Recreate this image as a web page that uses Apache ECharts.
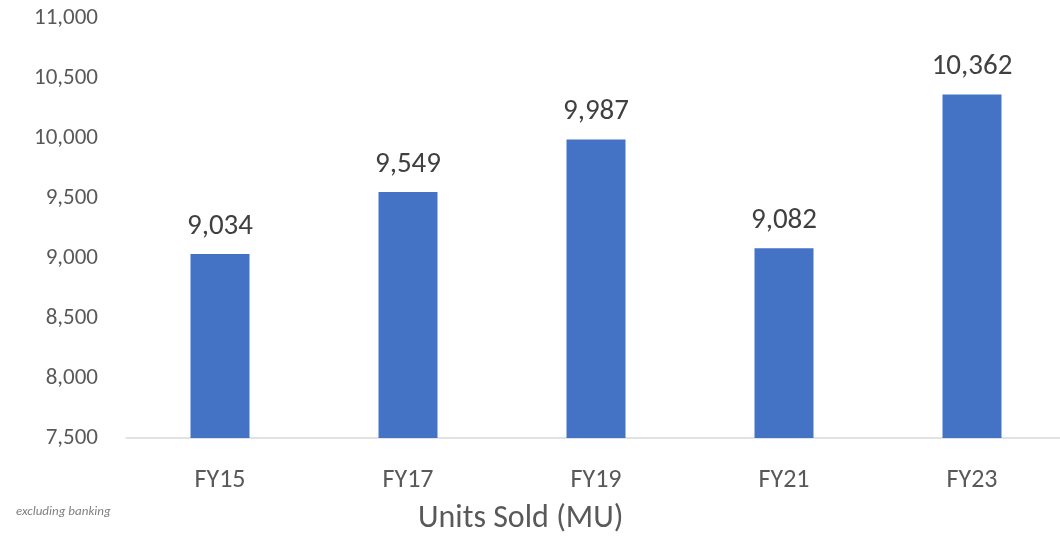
<!DOCTYPE html>
<html><head><meta charset="utf-8">
<script src="https://cdn.jsdelivr.net/npm/echarts@6/dist/echarts.min.js"></script>
<style>html,body{margin:0;padding:0;background:#fff}#c{width:1060px;height:542px}</style>
</head><body><div id="c"></div>
<script>
var categories = ['FY15','FY17','FY19','FY21','FY23'];
var unitsSold = [9034, 9549, 9987, 9082, 10362];
var axisTitle = 'Units Sold (MU)';
var footnote = 'excluding banking';
var FONT = 'Carlito, Lato, "Open Sans", sans-serif';
var chart = echarts.init(document.getElementById('c'));
chart.setOption({
  animation: false,
  grid: {left: 126, top: 18, width: 940, height: 420, outerBoundsMode: 'none', containLabel: false},
  xAxis: {
    type: 'category', data: categories,
    axisLine: {lineStyle: {color: '#d9d9d9', width: 1.5}},
    axisTick: {show: false},
    axisLabel: {color: '#595959', fontSize: 26, fontFamily: FONT, margin: 29}
  },
  yAxis: {
    type: 'value', min: 7500, max: 11000, interval: 500,
    splitLine: {show: false},
    axisLine: {show: false}, axisTick: {show: false},
    axisLabel: {color: '#595959', fontSize: 23, fontFamily: FONT, margin: 28,
      formatter: function(v){ return v.toLocaleString('en-US'); }}
  },
  series: [{
    type: 'bar', data: unitsSold, barWidth: 59,
    itemStyle: {color: '#4472C4'},
    label: {show: true, position: 'top', distance: 13, color: '#404040', fontSize: 29, fontFamily: FONT,
      formatter: function(p){ return p.value.toLocaleString('en-US'); }}
  }],
  graphic: [
    {type: 'text', left: 418, top: 503, style: {text: axisTitle, fill: '#595959', fontSize: 32, fontFamily: FONT}},
    {type: 'text', left: 16, top: 505, style: {text: footnote, fill: '#808080', fontSize: 13, fontStyle: 'italic', fontFamily: FONT}}
  ]
});
</script></body></html>
